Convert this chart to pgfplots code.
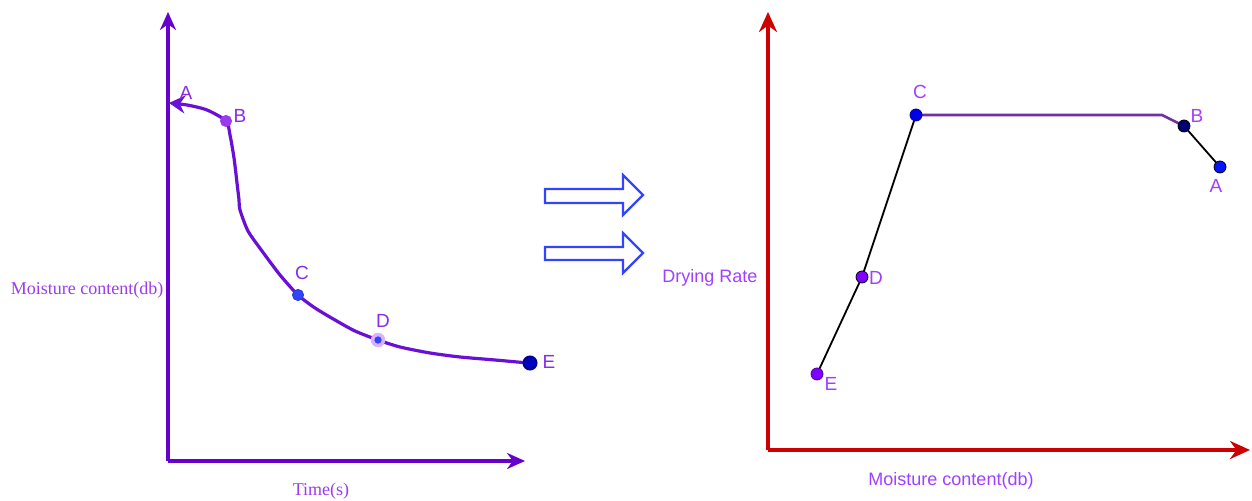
\documentclass[border=0pt]{standalone}
\usepackage{fontspec}
\setmainfont{Liberation Serif}
\setsansfont{Liberation Sans}
\usepackage{pgfplots}
\pgfplotsset{compat=1.18}
\usetikzlibrary{arrows.meta}
\definecolor{laxis}{HTML}{6600CC}
\definecolor{lcurve}{HTML}{6A10D6}
\definecolor{ltext}{HTML}{9A3BF0}
\definecolor{lletter}{HTML}{8A2BE8}
\definecolor{raxis}{HTML}{CC0000}
\definecolor{rtext}{HTML}{A040FF}
\definecolor{rpurple}{HTML}{7030A0}
\definecolor{barrow}{HTML}{3344FF}
\definecolor{vpurple}{HTML}{7F00FF}
\begin{document}
\begin{tikzpicture}[x=0.5pt,y=0.5pt]
\path[use as bounding box] (0,0) rectangle (1252,501);
% ---------------- left chart ----------------
\begin{axis}[at={(168,40)}, anchor=south west, scale only axis,
  width=178.5pt, height=224.5pt,
  xmin=168, xmax=525, ymin=40, ymax=489,
  axis lines=left, ticks=none, clip=false,
  axis line style={laxis, line width=1.8pt, -{Stealth[length=9pt,width=8pt]}}]
\addplot[lcurve, line width=1.6pt, smooth, tension=0.45, mark=none,
  {Stealth[length=8pt,width=9pt]}-] coordinates {
  (169,398) (187,396) (207,391) (226,380) (230,366) (234,343) (237,318)
  (239,301) (240,291) (248,270) (262,250) (280,226)
  (298,206) (315,193) (335,181) (355,170) (378,161) (400,154) (430,148)
  (460,144) (495,141) (528,138)};
\addplot[only marks, mark=*, mark size=2.8pt, mark options={draw=ltext, fill=ltext}] coordinates {(226,380)};
\addplot[only marks, mark=*, mark size=2.8pt, mark options={draw=barrow!80!black, fill=barrow}] coordinates {(298,206)};
\addplot[only marks, mark=*, mark size=3.4pt, mark options={draw=rtext!40, fill=rtext!40}] coordinates {(378,161)};
\addplot[only marks, mark=*, mark size=1.6pt, mark options={draw=barrow, fill=barrow}] coordinates {(378,161)};
\addplot[only marks, mark=*, mark size=3.3pt, mark options={draw=blue!55!black, fill=blue!75!black, line width=0.9pt}] coordinates {(530,138)};
\node[font=\sffamily\fontsize{9.5}{10}\selectfont, text=lletter] at (axis cs:186,408) {A};
\node[font=\sffamily\fontsize{9.5}{10}\selectfont, text=lletter] at (axis cs:240,385) {B};
\node[font=\sffamily\fontsize{9.5}{10}\selectfont, text=lletter] at (axis cs:302,228) {C};
\node[font=\sffamily\fontsize{9.5}{10}\selectfont, text=lletter] at (axis cs:383,180) {D};
\node[font=\sffamily\fontsize{9.5}{10}\selectfont, text=lletter] at (axis cs:549,139) {E};
\end{axis}
% ---------------- right chart ----------------
\begin{axis}[at={(768,51)}, anchor=south west, scale only axis,
  width=241pt, height=219pt,
  xmin=768, xmax=1250, ymin=51, ymax=489,
  axis lines=left, ticks=none, clip=false,
  axis line style={raxis, line width=1.8pt, -{Stealth[length=10pt,width=9pt]}}]
\addplot[black, line width=0.9pt, mark=none] coordinates {(817,127) (862,224) (916,386)};
\addplot[rpurple, line width=1.3pt, mark=none] coordinates {(916,386) (1162,386) (1184,375)};
\addplot[black, line width=0.9pt, mark=none] coordinates {(1184,375) (1220,334)};
\addplot[only marks, mark=*, mark size=3pt, mark options={draw=blue!60!black, fill=blue!90!black}] coordinates {(916,386)};
\addplot[only marks, mark=*, mark size=3pt, mark options={draw=black, fill=blue!45!black}] coordinates {(1184,375)};
\addplot[only marks, mark=*, mark size=3pt, mark options={draw=black, fill=blue!92!cyan}] coordinates {(1220,334)};
\addplot[only marks, mark=*, mark size=3pt, mark options={draw=black, fill=vpurple}] coordinates {(862,224)};
\addplot[only marks, mark=*, mark size=3pt, mark options={draw=vpurple!60!black, fill=vpurple}] coordinates {(817,127)};
\node[font=\sffamily\fontsize{9.5}{10}\selectfont, text=rtext] at (axis cs:920,409) {C};
\node[font=\sffamily\fontsize{9.5}{10}\selectfont, text=rtext] at (axis cs:1197,385) {B};
\node[font=\sffamily\fontsize{9.5}{10}\selectfont, text=rtext] at (axis cs:1216,315) {A};
\node[font=\sffamily\fontsize{9.5}{10}\selectfont, text=rtext] at (axis cs:876,223) {D};
\node[font=\sffamily\fontsize{9.5}{10}\selectfont, text=rtext] at (axis cs:831,117) {E};
\end{axis}
% ---------------- texts and block arrows ----------------
\node[font=\fontsize{9}{10}\selectfont, text=ltext] at (87,211) {Moisture content(db)};
\node[font=\fontsize{9}{10}\selectfont, text=ltext] at (321,10) {Time(s)};
\node[font=\sffamily\fontsize{9}{10}\selectfont, text=rtext] at (710,223) {Drying Rate};
\node[font=\sffamily\fontsize{9}{10}\selectfont, text=rtext] at (951,20) {Moisture content(db)};
\draw[barrow, line width=1.1pt, line join=miter] (545,312) -- (623,312) -- (623,326) -- (643,306) -- (623,286) -- (623,298) -- (545,298) -- cycle;
\draw[barrow, line width=1.1pt, line join=miter] (545,254) -- (623,254) -- (623,268) -- (643,248) -- (623,228) -- (623,241) -- (545,241) -- cycle;
\end{tikzpicture}
\end{document}
